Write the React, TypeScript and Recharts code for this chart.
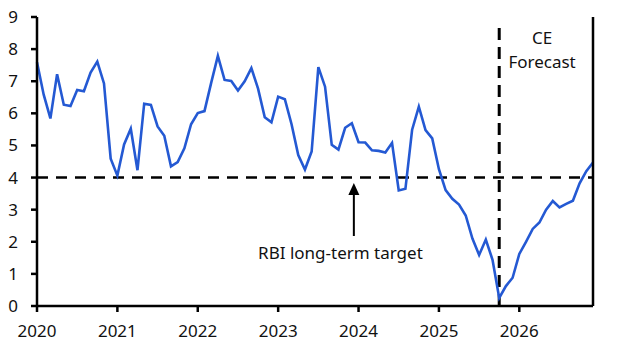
import { ComposedChart, Line, XAxis, YAxis, ReferenceLine, ReferenceDot } from "recharts";

// India CPI inflation, % y/y, monthly from Jan 2020
const actual = [
  7.59, 6.58, 5.84, 7.22, 6.27, 6.23, 6.73, 6.69, 7.27, 7.61, 6.93, 4.59,
  4.06, 5.03, 5.52, 4.23, 6.3, 6.26, 5.59, 5.3, 4.35, 4.48, 4.91, 5.66,
  6.01, 6.07, 6.95, 7.79, 7.04, 7.01, 6.71, 7.0, 7.41, 6.77, 5.88, 5.72,
  6.52, 6.44, 5.66, 4.7, 4.25, 4.81, 7.44, 6.83, 5.02, 4.87, 5.55, 5.69,
  5.1, 5.09, 4.85, 4.83, 4.78, 5.08, 3.6, 3.65, 5.49, 6.21, 5.48, 5.22,
  4.26, 3.61, 3.34, 3.16, 2.82, 2.1, 1.59, 2.07, 1.44, 0.25,
];
// CE forecast, Nov 2025 to Dec 2026
const forecast = [0.62, 0.88, 1.62, 2.0, 2.4, 2.6, 3.0, 3.27, 3.07, 3.18, 3.28, 3.82, 4.2, 4.47];

const yearTicks = [0, 12, 24, 36, 48, 60, 72];
const yTicks = [0, 1, 2, 3, 4, 5, 6, 7, 8, 9];
const target = 4;
const forecastStart = 69;

const data = [...actual, ...forecast].map((v, i) => ({ i, cpi: v }));

const font = "'Noto Sans', sans-serif";
const axisStyle = { stroke: "#000", strokeWidth: 2.5 };
const tickStyle = { fill: "#111", fontSize: 17, fontFamily: font };

const YearTick = (props: any) => {
  const { x, y, payload } = props;
  return (
    <text x={x} y={y + 25} textAnchor="middle" fontSize={17} fontFamily={font} fill="#111">
      {2020 + payload.value / 12}
    </text>
  );
};

const Arrowhead = (props: any) => {
  const { cx, cy } = props;
  return <polygon points={`${cx},${cy} ${cx - 5.5},${cy + 12} ${cx + 5.5},${cy + 12}`} fill="#000" />;
};

const TargetText = (props: any) => (
  <text x={props.cx} y={props.cy} textAnchor="middle" dominantBaseline="central"
    fontSize={17} fontFamily={font} fill="#111">RBI long-term target</text>
);

const ForecastText = (props: any) => (
  <text x={props.cx} y={props.cy} textAnchor="middle" fontSize={17} fontFamily={font} fill="#111">
    <tspan x={props.cx} dy="0">CE</tspan>
    <tspan x={props.cx} dy="24">Forecast</tspan>
  </text>
);

export default function App() {
  return (
    <div style={{ position: "absolute", left: 0, top: 0, background: "#fff" }}>
      <ComposedChart width={637} height={352} data={data}
        margin={{ top: 17, right: 0, bottom: 12, left: 0 }}>
        <XAxis dataKey="i" type="number" domain={[0, 83]} ticks={yearTicks}
          axisLine={axisStyle} tickLine={axisStyle} tickSize={6} tickMargin={0}
          tick={<YearTick />} height={34} />
        <YAxis yAxisId="left" domain={[0, 9]} ticks={yTicks} width={37}
          axisLine={axisStyle} tickLine={axisStyle} tickSize={6} tickMargin={13}
          tick={tickStyle} />
        <YAxis yAxisId="right" orientation="right" domain={[0, 9]} ticks={yTicks} width={44}
          axisLine={axisStyle} tickLine={axisStyle} tickSize={6} tickMargin={14}
          tick={{ ...tickStyle, textAnchor: "start" }} />
        <ReferenceLine yAxisId="left" y={target} stroke="#000" strokeWidth={2.5} strokeDasharray="11 8" />
        <ReferenceLine yAxisId="left" stroke="#000" strokeWidth={3} strokeDasharray="12 7"
          segment={[{ x: forecastStart, y: 0 }, { x: forecastStart, y: 8.75 }]} />
        <ReferenceLine yAxisId="left" stroke="#000" strokeWidth={2}
          segment={[{ x: 47.3, y: 2.18 }, { x: 47.3, y: 3.5 }]} />
        <ReferenceDot yAxisId="left" x={47.3} y={3.83} shape={Arrowhead} />
        <ReferenceDot yAxisId="left" x={45.3} y={1.68} shape={TargetText} />
        <ReferenceDot yAxisId="left" x={75.4} y={8.16} shape={ForecastText} />
        <Line yAxisId="left" dataKey="cpi" type="linear" stroke="#2459d3" strokeWidth={2.6}
          dot={false} isAnimationActive={false} />
      </ComposedChart>
    </div>
  );
}
